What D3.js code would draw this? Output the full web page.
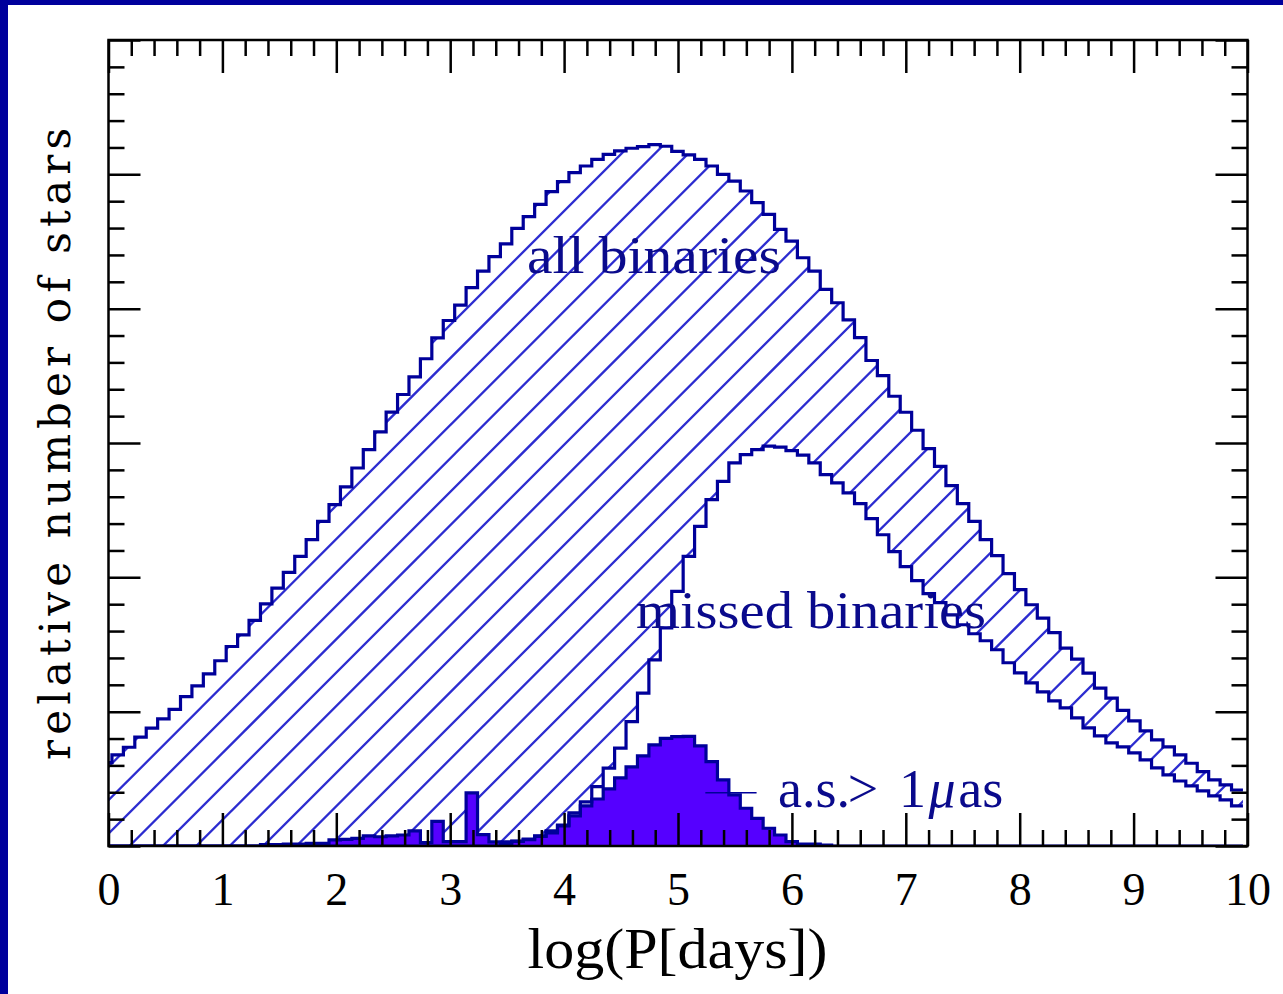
<!DOCTYPE html>
<html><head><meta charset="utf-8">
<script src="https://cdn.jsdelivr.net/npm/d3@7"></script>
<style>html,body{margin:0;padding:0;background:#fff;} svg{display:block}</style>
</head><body>
<svg id="chart" width="1283" height="994"></svg>
<script>
// ---- data (histogram bins in log P, bin -1 starts below 0 and is clipped) ----
const binStart = -0.07;
const binWidth = 0.1003;
const allBinaries = [
0.621,0.678,0.735,0.810,0.877,0.946,1.017,1.112,1.192,1.282,
1.379,1.485,1.572,1.679,1.803,1.920,2.037,2.156,2.280,2.417,
2.541,2.673,2.814,2.951,3.083,3.230,3.361,3.492,3.627,3.783,
3.912,4.026,4.156,4.279,4.387,4.482,4.598,4.685,4.776,4.871,
4.946,5.013,5.062,5.112,5.149,5.174,5.194,5.206,5.221,5.209,
5.171,5.145,5.112,5.062,5.000,4.950,4.876,4.789,4.702,4.590,
4.503,4.379,4.279,4.143,4.044,3.917,3.785,3.614,3.502,3.348,
3.229,3.095,2.958,2.826,2.683,2.548,2.417,2.280,2.161,2.027,
1.908,1.796,1.697,1.589,1.473,1.391,1.287,1.175,1.101,1.010,
0.931,0.857,0.790,0.738,0.678,0.616,0.554,0.492,0.455,0.417];
const missedBinaries = [
0,0,0,0,0,0,0,0,0,0,
0,0,0,0,0,0,0,0,0,0,
0,0,0,0,0,0,0,0,0,0,
0,0,0,0,0,0.019,0.034,0.052,0.075,0.112,
0.156,0.246,0.328,0.442,0.579,0.728,0.926,1.138,1.386,1.624,
1.895,2.156,2.379,2.578,2.715,2.852,2.914,2.951,2.977,2.969,
2.943,2.910,2.852,2.765,2.703,2.628,2.548,2.437,2.317,2.191,
2.079,1.975,1.878,1.811,1.721,1.647,1.580,1.528,1.461,1.364,
1.289,1.215,1.148,1.080,1.028,0.954,0.879,0.820,0.768,0.738,
0.693,0.641,0.581,0.529,0.484,0.447,0.410,0.373,0.343,0.298];
const astroSignal = [
0,0,0,0,0,0,0,0,0,0,
0,0,0,0,0.011,0.011,0.015,0.015,0.019,0.019,
0.045,0.050,0.057,0.075,0.069,0.075,0.082,0.112,0.025,0.184,
0.032,0.032,0.395,0.084,0.030,0.030,0.037,0.048,0.071,0.097,
0.149,0.224,0.298,0.350,0.425,0.507,0.589,0.671,0.753,0.801,
0.814,0.816,0.745,0.628,0.492,0.380,0.281,0.206,0.132,0.082,
0.032,0.015,0.015,0.007,0,0,0,0,0,0,
0,0,0,0,0,0,0,0,0,0,
0,0,0,0,0,0,0,0,0,0,
0,0,0,0,0,0,0,0,0,0];
const xTickValues = [0,1,2,3,4,5,6,7,8,9,10];
const xTickLabels = ["0","1","2","3","4","5","6","7","8","9","10"];
const yMajorTicks = [0,1,2,3,4,5,6];
const xLabel = "log(P[days])";
const yLabel = "relative number of stars";
const labelAll = "all binaries";
const labelMissed = "missed binaries";

// ---- layout ----
const svg = d3.select("#chart");
const navy = "#00009a", hatchCol = "#2c2cd0", purple = "#5500ff", textCol = "#0a0a8c";
const x = d3.scaleLinear().domain([0,10]).range([108.5,1247.5]);
const y = d3.scaleLinear().domain([0,6]).range([846,40]);

// page border
svg.append("rect").attr("x",0).attr("y",0).attr("width",1283).attr("height",994).attr("fill","#fff");
svg.append("rect").attr("x",0).attr("y",0).attr("width",8).attr("height",994).attr("fill","#00009c");
svg.append("rect").attr("x",0).attr("y",0).attr("width",1283).attr("height",5).attr("fill","#00009c");

const defs = svg.append("defs");
defs.append("clipPath").attr("id","plotclip").append("rect")
  .attr("x",x(0)).attr("y",y(6)).attr("width",x(10)-x(0)).attr("height",y(0)-y(6));

const bins = allBinaries.map((v,i)=>({
  l: binStart + i*binWidth, r: binStart + (i+1)*binWidth,
  all: v, missed: missedBinaries[i], as: astroSignal[i]}));
const pairPts = [];
bins.forEach(b=>{ pairPts.push({x:b.l, b}); pairPts.push({x:b.r, b}); });

// hatch region (between all and missed)
const hatchArea = d3.area().x(d=>x(d.x)).y0(d=>y(d.b.missed)).y1(d=>y(d.b.all));
defs.append("clipPath").attr("id","hatchclip").append("path").attr("d", hatchArea(pairPts));

const plot = svg.append("g").attr("clip-path","url(#plotclip)");
const hatchG = plot.append("g").attr("clip-path","url(#hatchclip)");
const sp = 33.4, x0b = 119.5, base = y(0);
for (let k=-30;k<=40;k++){
  const xb = x0b + sp*k;
  hatchG.append("line").attr("x1",xb).attr("y1",base+10).attr("x2",xb+840).attr("y2",base-830)
    .attr("stroke",hatchCol).attr("stroke-width",2.3);
}

// purple filled histogram
const fillArea = d3.area().x(d=>x(d.x)).y0(y(0)).y1(d=>y(d.b.as));
plot.append("path").attr("d",fillArea(pairPts)).attr("fill",purple);
const stepLine = key => d3.line().x(d=>x(d.x)).y(d=>y(d.b[key]))(pairPts);
plot.append("path").attr("d",stepLine("as")).attr("fill","none").attr("stroke",navy).attr("stroke-width",3.2);
plot.append("path").attr("d",stepLine("missed")).attr("fill","none").attr("stroke",navy).attr("stroke-width",3.2);
plot.append("path").attr("d",stepLine("all")).attr("fill","none").attr("stroke",navy).attr("stroke-width",3.2);

// labels inside
svg.append("text").attr("x",x(3.674)).attr("y",y(4.263)).text(labelAll)
  .attr("font-family","Liberation Serif").attr("font-size",52).attr("fill",textCol)
  .attr("textLength",254).attr("lengthAdjust","spacingAndGlyphs");
svg.append("text").attr("x",x(4.631)).attr("y",y(1.621)).text(labelMissed)
  .attr("font-family","Liberation Serif").attr("font-size",52).attr("fill",textCol)
  .attr("textLength",350).attr("lengthAdjust","spacingAndGlyphs");
const asT = svg.append("text").attr("y",y(0.293)).attr("font-family","Liberation Serif")
  .attr("font-size",54).attr("fill",textCol);
asT.append("tspan").attr("x",x(5.878)).text("a.s.");
asT.append("tspan").attr("x",x(6.49)).text(">");
asT.append("tspan").attr("x",x(6.94)).text("1");
asT.append("tspan").attr("x",x(7.20)).attr("font-style","italic").text("μ");
asT.append("tspan").attr("x",x(7.46)).text("as");
svg.append("line").attr("x1",x(5.24)).attr("x2",x(5.69)).attr("y1",y(0.397)).attr("y2",y(0.397))
  .attr("stroke",navy).attr("stroke-width",1.5);

// axes / frame
const minorX = d3.range(0,10.001,0.2).filter(v=>Math.abs(v-Math.round(v))>1e-6);
const minorY = d3.range(0,6.001,0.2).filter(v=>Math.abs(v-Math.round(v))>1e-6);
function styleAxis(g){ g.select(".domain").remove(); g.selectAll("line").attr("stroke","#000").attr("stroke-width",2.5); }
svg.append("g").attr("transform",`translate(0,${y(0)})`).call(d3.axisBottom(x).tickValues(minorX).tickSize(-16).tickFormat("")).call(styleAxis);
svg.append("g").attr("transform",`translate(0,${y(6)})`).call(d3.axisTop(x).tickValues(minorX).tickSize(-16).tickFormat("")).call(styleAxis);
svg.append("g").attr("transform",`translate(0,${y(6)})`).call(d3.axisTop(x).tickValues(xTickValues).tickSize(-33).tickFormat("")).call(styleAxis);
const bx = svg.append("g").attr("transform",`translate(0,${y(0)})`)
  .call(d3.axisBottom(x).tickValues(xTickValues).tickSize(-33).tickFormat((d,i)=>xTickLabels[i])).call(styleAxis);
bx.selectAll("text").attr("y",59).attr("dy",0).attr("font-family","Liberation Serif")
  .attr("font-size",46).attr("fill","#000");
svg.append("g").attr("transform",`translate(${x(0)},0)`).call(d3.axisLeft(y).tickValues(minorY).tickSize(-16).tickFormat("")).call(styleAxis);
svg.append("g").attr("transform",`translate(${x(0)},0)`).call(d3.axisLeft(y).tickValues(yMajorTicks).tickSize(-32).tickFormat("")).call(styleAxis);
svg.append("g").attr("transform",`translate(${x(10)},0)`).call(d3.axisRight(y).tickValues(minorY).tickSize(-16).tickFormat("")).call(styleAxis);
svg.append("g").attr("transform",`translate(${x(10)},0)`).call(d3.axisRight(y).tickValues(yMajorTicks).tickSize(-32).tickFormat("")).call(styleAxis);
svg.append("rect").attr("x",x(0)).attr("y",y(6)).attr("width",x(10)-x(0)).attr("height",y(0)-y(6))
  .attr("fill","none").attr("stroke","#000").attr("stroke-width",2.5);

// axis titles
svg.append("text").attr("x",(x(0)+x(10))/2-0.5).attr("y",968).attr("text-anchor","middle")
  .attr("font-family","Liberation Serif").attr("font-size",58).attr("fill","#000")
  .attr("textLength",300).attr("lengthAdjust","spacingAndGlyphs").text(xLabel);
svg.append("text").attr("transform","translate(70,444) rotate(-90)").attr("text-anchor","middle")
  .attr("font-family","DejaVu Serif").attr("font-size",42).attr("fill","#000")
  .attr("textLength",632).attr("lengthAdjust","spacing").text(yLabel);
</script>
</body></html>
